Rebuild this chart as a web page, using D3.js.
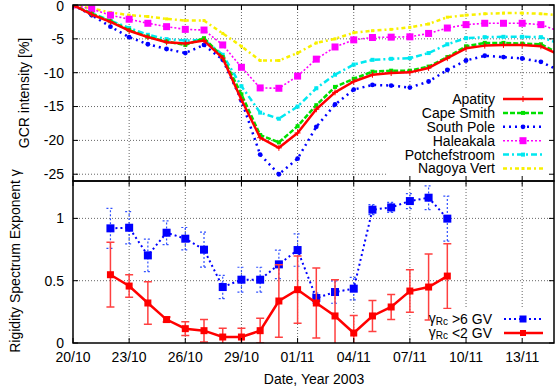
<!DOCTYPE html>
<html>
<head>
<meta charset="utf-8">
<script src="https://cdn.jsdelivr.net/npm/d3@7"></script>
<style>
  body { margin: 0; background: #fff; }
  svg { display: block; font-family: "Liberation Sans", Arial, sans-serif; }
</style>
</head>
<body>
<script>
// days since 20/10/2003
const days = d3.range(0, 27);
const apatity = [0, -1.4, -2.5, -3.8, -4.75, -5.5, -5.7, -5.25, -7.85, -14.0, -19.6, -21.1, -18.9, -15.4, -12.9, -11.3, -10.3, -10.05, -9.95, -9.3, -7.85, -6.4, -6.0, -5.9, -5.9, -6.1, -7.4];
const capeSmith = [0, -1.3, -2.4, -3.7, -4.7, -5.4, -5.9, -4.9, -7.7, -13.2, -19.2, -20.3, -17.9, -14.8, -12.1, -10.9, -9.85, -9.7, -9.7, -9.1, -7.7, -6.1, -5.6, -5.6, -5.7, -5.8, -7.2];
const southPole = [0, -1.5, -3.2, -4.75, -5.8, -6.5, -7.1, -5.9, -8.1, -14.1, -22.1, -25.0, -22.7, -18.0, -14.7, -12.5, -11.8, -11.9, -12.2, -11.3, -9.6, -8.2, -7.5, -7.7, -7.9, -8.4, -9.7];
const haleakala = [0, -0.6, -1.5, -2.1, -2.7, -3.2, -3.6, -3.7, -5.9, -9.2, -12.25, -12.3, -10.5, -8.0, -6.2, -5.15, -4.8, -4.75, -4.7, -4.2, -3.4, -2.9, -2.7, -2.7, -2.7, -2.9, -3.9];
const potchefstroom = [0, -1.2, -2.3, -3.4, -4.4, -5.05, -5.25, -5.15, -7.35, -12.0, -15.9, -16.8, -15.0, -12.3, -10.3, -8.8, -8.1, -7.95, -7.85, -7.1, -5.8, -4.9, -4.75, -4.7, -4.7, -4.75, -5.7];
const nagoyaVert = [0, -0.5, -1.1, -1.5, -1.7, -2.05, -2.3, -2.3, -4.2, -6.1, -8.2, -8.2, -7.1, -5.6, -5.0, -4.1, -3.8, -3.6, -3.3, -2.8, -1.8, -1.5, -1.3, -1.2, -1.2, -1.3, -1.5];

const gammaDays = d3.range(2, 21);
const gammaHigh = [0.92, 0.925, 0.703, 0.885, 0.837, 0.749, 0.449, 0.508, 0.508, 0.631, 0.746, 0.361, 0.409, 0.436, 1.07, 1.088, 1.139, 1.166, 0.998];
const gammaHighErr = [0.16, 0.13, 0.13, 0.095, 0.09, 0.14, 0.093, 0.1, 0.1, 0.115, 0.13, 0.04, 0.09, 0.09, 0.04, 0.04, 0.06, 0.095, 0.18];
const gammaLow = [0.548, 0.457, 0.321, 0.188, 0.115, 0.099, 0.048, 0.048, 0.099, 0.337, 0.428, 0.321, 0.217, 0.08, 0.217, 0.289, 0.417, 0.449, 0.537];
const gammaLowErr = [0.26, 0.09, 0.17, 0.02, 0.055, 0.09, 0.07, 0.07, 0.1, 0.29, 0.27, 0.28, 0.29, 0.14, 0.125, 0.1, 0.17, 0.265, 0.26];

const xTickDays = [0, 3, 6, 9, 12, 15, 18, 21, 24];
const xTickLabels = ["20/10", "23/10", "26/10", "29/10", "01/11", "04/11", "07/11", "10/11", "13/11"];
const topTicks = [0, -5, -10, -15, -20, -25];
const bottomTicks = [0, 0.5, 1];

const width = 555, height = 392;
const fontSize = 14;
const svg = d3.select("body").append("svg").attr("width", width).attr("height", height);

const x = d3.scaleLinear().domain([0, 25.7]).range([73, 554]);
const yTop = d3.scaleLinear().domain([-26, 0]).range([181, 5]);
const yBot = d3.scaleLinear().domain([0, 1.3]).range([343, 181]);

const defs = svg.append("defs");
defs.append("clipPath").attr("id", "clipTop").append("rect")
    .attr("x", 73).attr("y", 5).attr("width", 481).attr("height", 176);
defs.append("clipPath").attr("id", "clipBot").append("rect")
    .attr("x", 73).attr("y", 181).attr("width", 481).attr("height", 162);

function grid(g, y, yTicks) {
    g.selectAll(".gx").data(xTickDays.slice(1)).enter().append("line")
        .attr("x1", d => x(d)).attr("x2", d => x(d))
        .attr("y1", y.range()[0]).attr("y2", y.range()[1])
        .attr("stroke", "#666").attr("stroke-width", 1).attr("stroke-dasharray", "1,2");
    g.selectAll(".gy").data(yTicks.filter(t => t !== y.domain()[0] && t !== y.domain()[1])).enter().append("line")
        .attr("x1", x.range()[0]).attr("x2", x.range()[1])
        .attr("y1", d => y(d)).attr("y2", d => y(d))
        .attr("stroke", "#666").attr("stroke-width", 1).attr("stroke-dasharray", "1,2");
}

function frame(y, yTicks) {
    const g = svg.append("g");
    const [y0, y1] = y.range();
    g.selectAll(".tb").data(xTickDays).enter().append("path")
        .attr("d", d => `M${x(d)},${y0}v-5M${x(d)},${y1}v5`)
        .attr("stroke", "#000").attr("stroke-width", 1);
    g.selectAll(".ty").data(yTicks).enter().append("path")
        .attr("d", d => `M73,${y(d)}h5M554,${y(d)}h-5`)
        .attr("stroke", "#000").attr("stroke-width", 1);
    g.append("rect").attr("x", 73).attr("y", y1).attr("width", 481).attr("height", y0 - y1)
        .attr("fill", "none").attr("stroke", "#000").attr("stroke-width", 1.5);
    g.selectAll(".yl").data(yTicks).enter().append("text")
        .attr("x", 64).attr("y", d => Math.max(y(d), 6)).attr("dy", "0.35em")
        .attr("text-anchor", "end").attr("font-size", fontSize).text(d => String(d));
}

// top panel
const gTop = svg.append("g");
grid(gTop, yTop, topTicks);

const series = [
    { name: "Apatity", values: apatity, color: "#ff0000", width: 2.5, dash: null, marker: "plus", size: 3 },
    { name: "Cape Smith", values: capeSmith, color: "#00e000", width: 2.5, dash: "5,2", marker: "square", size: 4 },
    { name: "South Pole", values: southPole, color: "#0000ff", width: 2.5, dash: "2,4", marker: "circle", size: 2.4 },
    { name: "Haleakala", values: haleakala, color: "#ff00ff", width: 1.6, dash: "2,2", marker: "square", size: 7 },
    { name: "Potchefstroom", values: potchefstroom, color: "#00e8f0", width: 2.5, dash: "6,3,2,3", marker: "square", size: 4 },
    { name: "Nagoya Vert", values: nagoyaVert, color: "#f8f000", width: 2.5, dash: "4,3,2,3", marker: "square", size: 3 }
];

const line = d3.line();
const plotTop = gTop.append("g").attr("clip-path", "url(#clipTop)");

function drawMarker(g, kind, cx, cy, size, color) {
    if (kind === "square") {
        g.append("rect").attr("x", cx - size / 2).attr("y", cy - size / 2)
            .attr("width", size).attr("height", size).attr("fill", color);
    } else if (kind === "circle") {
        g.append("circle").attr("cx", cx).attr("cy", cy).attr("r", size).attr("fill", color);
    } else {
        g.append("path").attr("d", `M${cx - size},${cy}h${2 * size}M${cx},${cy - size}v${2 * size}`)
            .attr("stroke", color).attr("stroke-width", 1);
    }
}

series.slice().reverse().forEach(s => {
    plotTop.append("path")
        .attr("d", line(days.map((d, i) => [x(d), yTop(s.values[i])])))
        .attr("fill", "none").attr("stroke", s.color).attr("stroke-width", s.width)
        .attr("stroke-dasharray", s.dash).attr("stroke-linejoin", "round");
    days.forEach((d, i) => drawMarker(plotTop, s.marker, x(d), yTop(s.values[i]), s.size, s.color));
});

// top legend
const legTop = svg.append("g");
legTop.append("rect").attr("x", 387).attr("y", 90).attr("width", 166).attr("height", 90).attr("fill", "#fff");
series.forEach((s, i) => {
    const ly = 99 + i * 13.9;
    legTop.append("text").attr("x", 495).attr("y", ly).attr("dy", "0.35em")
        .attr("text-anchor", "end").attr("font-size", fontSize).text(s.name);
    legTop.append("line").attr("x1", 503).attr("x2", 543).attr("y1", ly).attr("y2", ly)
        .attr("stroke", s.color).attr("stroke-width", s.width).attr("stroke-dasharray", s.dash);
    drawMarker(legTop, s.marker, 523, ly, s.size, s.color);
});

frame(yTop, topTicks);

// bottom panel
const gBot = svg.append("g");
grid(gBot, yBot, bottomTicks);
const plotBot = gBot.append("g").attr("clip-path", "url(#clipBot)");

function errorSeries(vals, errs, opts) {
    const g = plotBot.append("g");
    gammaDays.forEach((d, i) => {
        const cx = x(d), lo = yBot(vals[i] - errs[i]), hi = yBot(vals[i] + errs[i]);
        g.append("path").attr("d", `M${cx},${lo}V${hi}M${cx - 4},${lo}h8M${cx - 4},${hi}h8`)
            .attr("fill", "none").attr("stroke", opts.errColor).attr("stroke-width", opts.errWidth)
            .attr("stroke-dasharray", opts.errDash);
    });
    g.append("path").attr("d", line(gammaDays.map((d, i) => [x(d), yBot(vals[i])])))
        .attr("fill", "none").attr("stroke", opts.color).attr("stroke-width", opts.width)
        .attr("stroke-dasharray", opts.dash);
    gammaDays.forEach((d, i) => drawMarker(g, "square", x(d), yBot(vals[i]), opts.size, opts.color));
}

const highStyle = { color: "#0000ff", width: 2, dash: "2,3", size: 8, errColor: "#3050ff", errWidth: 1.2, errDash: "2,2" };
const lowStyle = { color: "#ff0000", width: 2.5, dash: null, size: 7, errColor: "#ff4040", errWidth: 1.5, errDash: null };
errorSeries(gammaHigh, gammaHighErr, highStyle);
errorSeries(gammaLow, gammaLowErr, lowStyle);

// bottom legend
const legBot = svg.append("g");
legBot.append("rect").attr("x", 430).attr("y", 309).attr("width", 123).attr("height", 31).attr("fill", "#fff");
[[">6 GV", highStyle], ["<2 GV", lowStyle]].forEach(([label, st], i) => {
    const ly = 319 + i * 14;
    const t = legBot.append("text").attr("x", 492).attr("y", ly + 4).attr("font-size", fontSize)
        .attr("text-anchor", "end");
    t.append("tspan").text("γ");
    t.append("tspan").attr("font-size", 10).attr("dy", 2).text("Rc");
    t.append("tspan").attr("dy", -1).text(" " + label);
    legBot.append("line").attr("x1", 504).attr("x2", 543).attr("y1", ly).attr("y2", ly)
        .attr("stroke", st.color).attr("stroke-width", st.width).attr("stroke-dasharray", st.dash);
    drawMarker(legBot, "square", 523, ly, st.size - 1, st.color);
});

frame(yBot, bottomTicks);

// x tick labels and axis titles
svg.selectAll(".xl").data(xTickDays).enter().append("text")
    .attr("x", d => x(d)).attr("y", 357).attr("dy", "0.35em")
    .attr("text-anchor", "middle").attr("font-size", fontSize)
    .text((d, i) => xTickLabels[i]);

svg.append("text").attr("x", 314).attr("y", 379).attr("dy", "0.35em")
    .attr("text-anchor", "middle").attr("font-size", fontSize).text("Date, Year 2003");

svg.append("text").attr("transform", "translate(24,93) rotate(-90)")
    .attr("text-anchor", "middle").attr("dy", "0.35em").attr("font-size", fontSize)
    .text("GCR intensity [%]");

svg.append("text").attr("transform", "translate(15,261) rotate(-90)")
    .attr("text-anchor", "middle").attr("dy", "0.35em").attr("font-size", fontSize)
    .text("Rigidity Spectrum Exponent γ");
</script>
</body>
</html>
